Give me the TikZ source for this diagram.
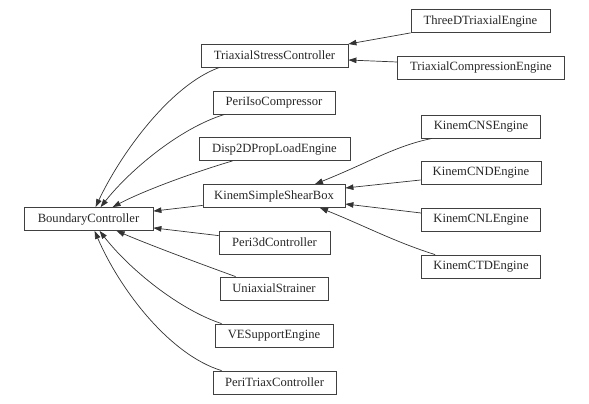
\documentclass[tikz,border=0pt]{standalone}
\usepackage{fontspec}
\setmainfont{Liberation Serif}
\usetikzlibrary{arrows.meta}
\begin{document}
\begin{tikzpicture}[x=1pt,y=-1pt,
  cls/.style={draw=black!75,line width=0.8pt,rectangle,minimum height=23pt,inner sep=0pt,font=\fontsize{12.6}{14}\selectfont,text=black!85},
  edge/.style={draw=black!80,line width=0.7pt,-{Triangle[length=8pt,width=5.5pt]}}]
\useasboundingbox (0,0) rectangle (589,404);
\node[cls,minimum width=129pt] (bc) at (88.5,219) {BoundaryController};
\node[cls,minimum width=147pt] (tsc) at (274.5,55.5) {TriaxialStressController};
\node[cls,minimum width=122pt] (pic) at (274,102.5) {PeriIsoCompressor};
\node[cls,minimum width=151pt] (d2d) at (274.5,149) {Disp2DPropLoadEngine};
\node[cls,minimum width=142pt] (kssb) at (274,196) {KinemSimpleShearBox};
\node[cls,minimum width=111pt] (p3d) at (274.5,242.5) {Peri3dController};
\node[cls,minimum width=108pt] (uni) at (274,288.5) {UniaxialStrainer};
\node[cls,minimum width=118pt] (ves) at (274,335.5) {VESupportEngine};
\node[cls,minimum width=123pt] (ptc) at (274.5,382.5) {PeriTriaxController};
\node[cls,minimum width=139pt] (three) at (480.5,21) {ThreeDTriaxialEngine};
\node[cls,minimum width=167pt] (tce) at (481,67.5) {TriaxialCompressionEngine};
\node[cls,minimum width=119pt] (cns) at (481,126.5) {KinemCNSEngine};
\node[cls,minimum width=120pt] (cnd) at (481,173) {KinemCNDEngine};
\node[cls,minimum width=119pt] (cnl) at (481,220) {KinemCNLEngine};
\node[cls,minimum width=119pt] (ctd) at (481,266.5) {KinemCTDEngine};
% edges into BoundaryController
\draw[edge] ([xshift=19pt]tsc.south west) .. controls (170,85) and (120,155) .. ([xshift=72pt]bc.north west);
\draw[edge] ([xshift=12pt]pic.south west) .. controls (180,128) and (130,170) .. ([xshift=77pt]bc.north west);
\draw[edge] ([xshift=34pt]d2d.south west) .. controls (195,172) and (145,190) .. ([xshift=89pt]bc.north west);
\draw[edge] ([yshift=2.5pt]kssb.south west) -- ([yshift=-4pt]bc.north east);
\draw[edge] ([yshift=-5pt]p3d.north west) -- ([yshift=3pt]bc.south east);
\draw[edge] ([xshift=16pt]uni.north west) .. controls (190,260) and (150,245) .. ([xshift=93pt]bc.south west);
\draw[edge] ([xshift=7pt]ves.north west) .. controls (180,310) and (130,270) .. ([xshift=76pt]bc.south west);
\draw[edge] ([xshift=9pt]ptc.north west) .. controls (170,355) and (120,290) .. ([xshift=71pt]bc.south west);
% edges into TriaxialStressController
\draw[edge] (three.south west) -- ([yshift=11.5pt]tsc.east);
\draw[edge] ([yshift=5.5pt]tce.west) -- ([yshift=-4.5pt]tsc.east);
% edges into KinemSimpleShearBox
\draw[edge] ([xshift=11pt]cns.south west) .. controls (395,146) and (370,162) .. ([xshift=41pt]kssb.north);
\draw[edge] ([yshift=-7pt]cnd.west) -- ([yshift=8pt]kssb.east);
\draw[edge] ([yshift=7pt]cnl.west) -- ([yshift=-8pt]kssb.east);
\draw[edge] ([xshift=14pt]ctd.north west) .. controls (395,242) and (365,226) .. ([xshift=46pt]kssb.south);
\end{tikzpicture}
\end{document}
